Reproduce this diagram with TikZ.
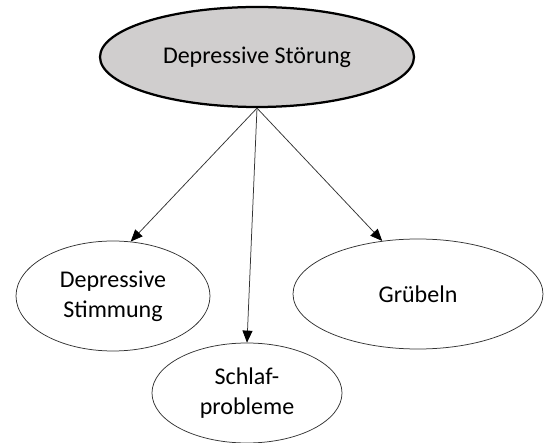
\documentclass[tikz,border=0pt]{standalone}
\usepackage{fontspec}
\setmainfont{Carlito}
\usetikzlibrary{positioning,shapes.geometric,arrows.meta}
\definecolor{topgray}{HTML}{D0CECE}

\begin{document}
\begin{tikzpicture}
            [x=1pt,y=-1pt,
             e/.style={ellipse,draw=black!80,line width=0.75pt,inner sep=0pt,
                       align=center,font=\fontsize{24pt}{30pt}\selectfont},
             topbox/.style={e,draw=black,line width=2.25pt,fill=topgray},
             arr/.style={-{Triangle[length=12pt,width=10pt,color=black]},draw=black!80,line width=0.75pt}]
            \useasboundingbox (0,0) rectangle (544,443);
            \node[topbox,minimum width=314pt,minimum height=100pt](st) at (257,57){Depressive Störung};
            \node[e,minimum width=194pt,minimum height=110pt](ds) at (113,296){Depressive\\Stimmung};
            \node[e,minimum width=250pt,minimum height=110pt](gr) at (418,294){Grübeln};
            \node[e,minimum width=190pt,minimum height=100pt](sp) at (247,393){Schlaf-\\probleme};
            \path (st.south) edge[arr] (ds.72)
                             edge[arr] (sp.north)
                             edge[arr] (gr.124);
        \end{tikzpicture}
\end{document}
